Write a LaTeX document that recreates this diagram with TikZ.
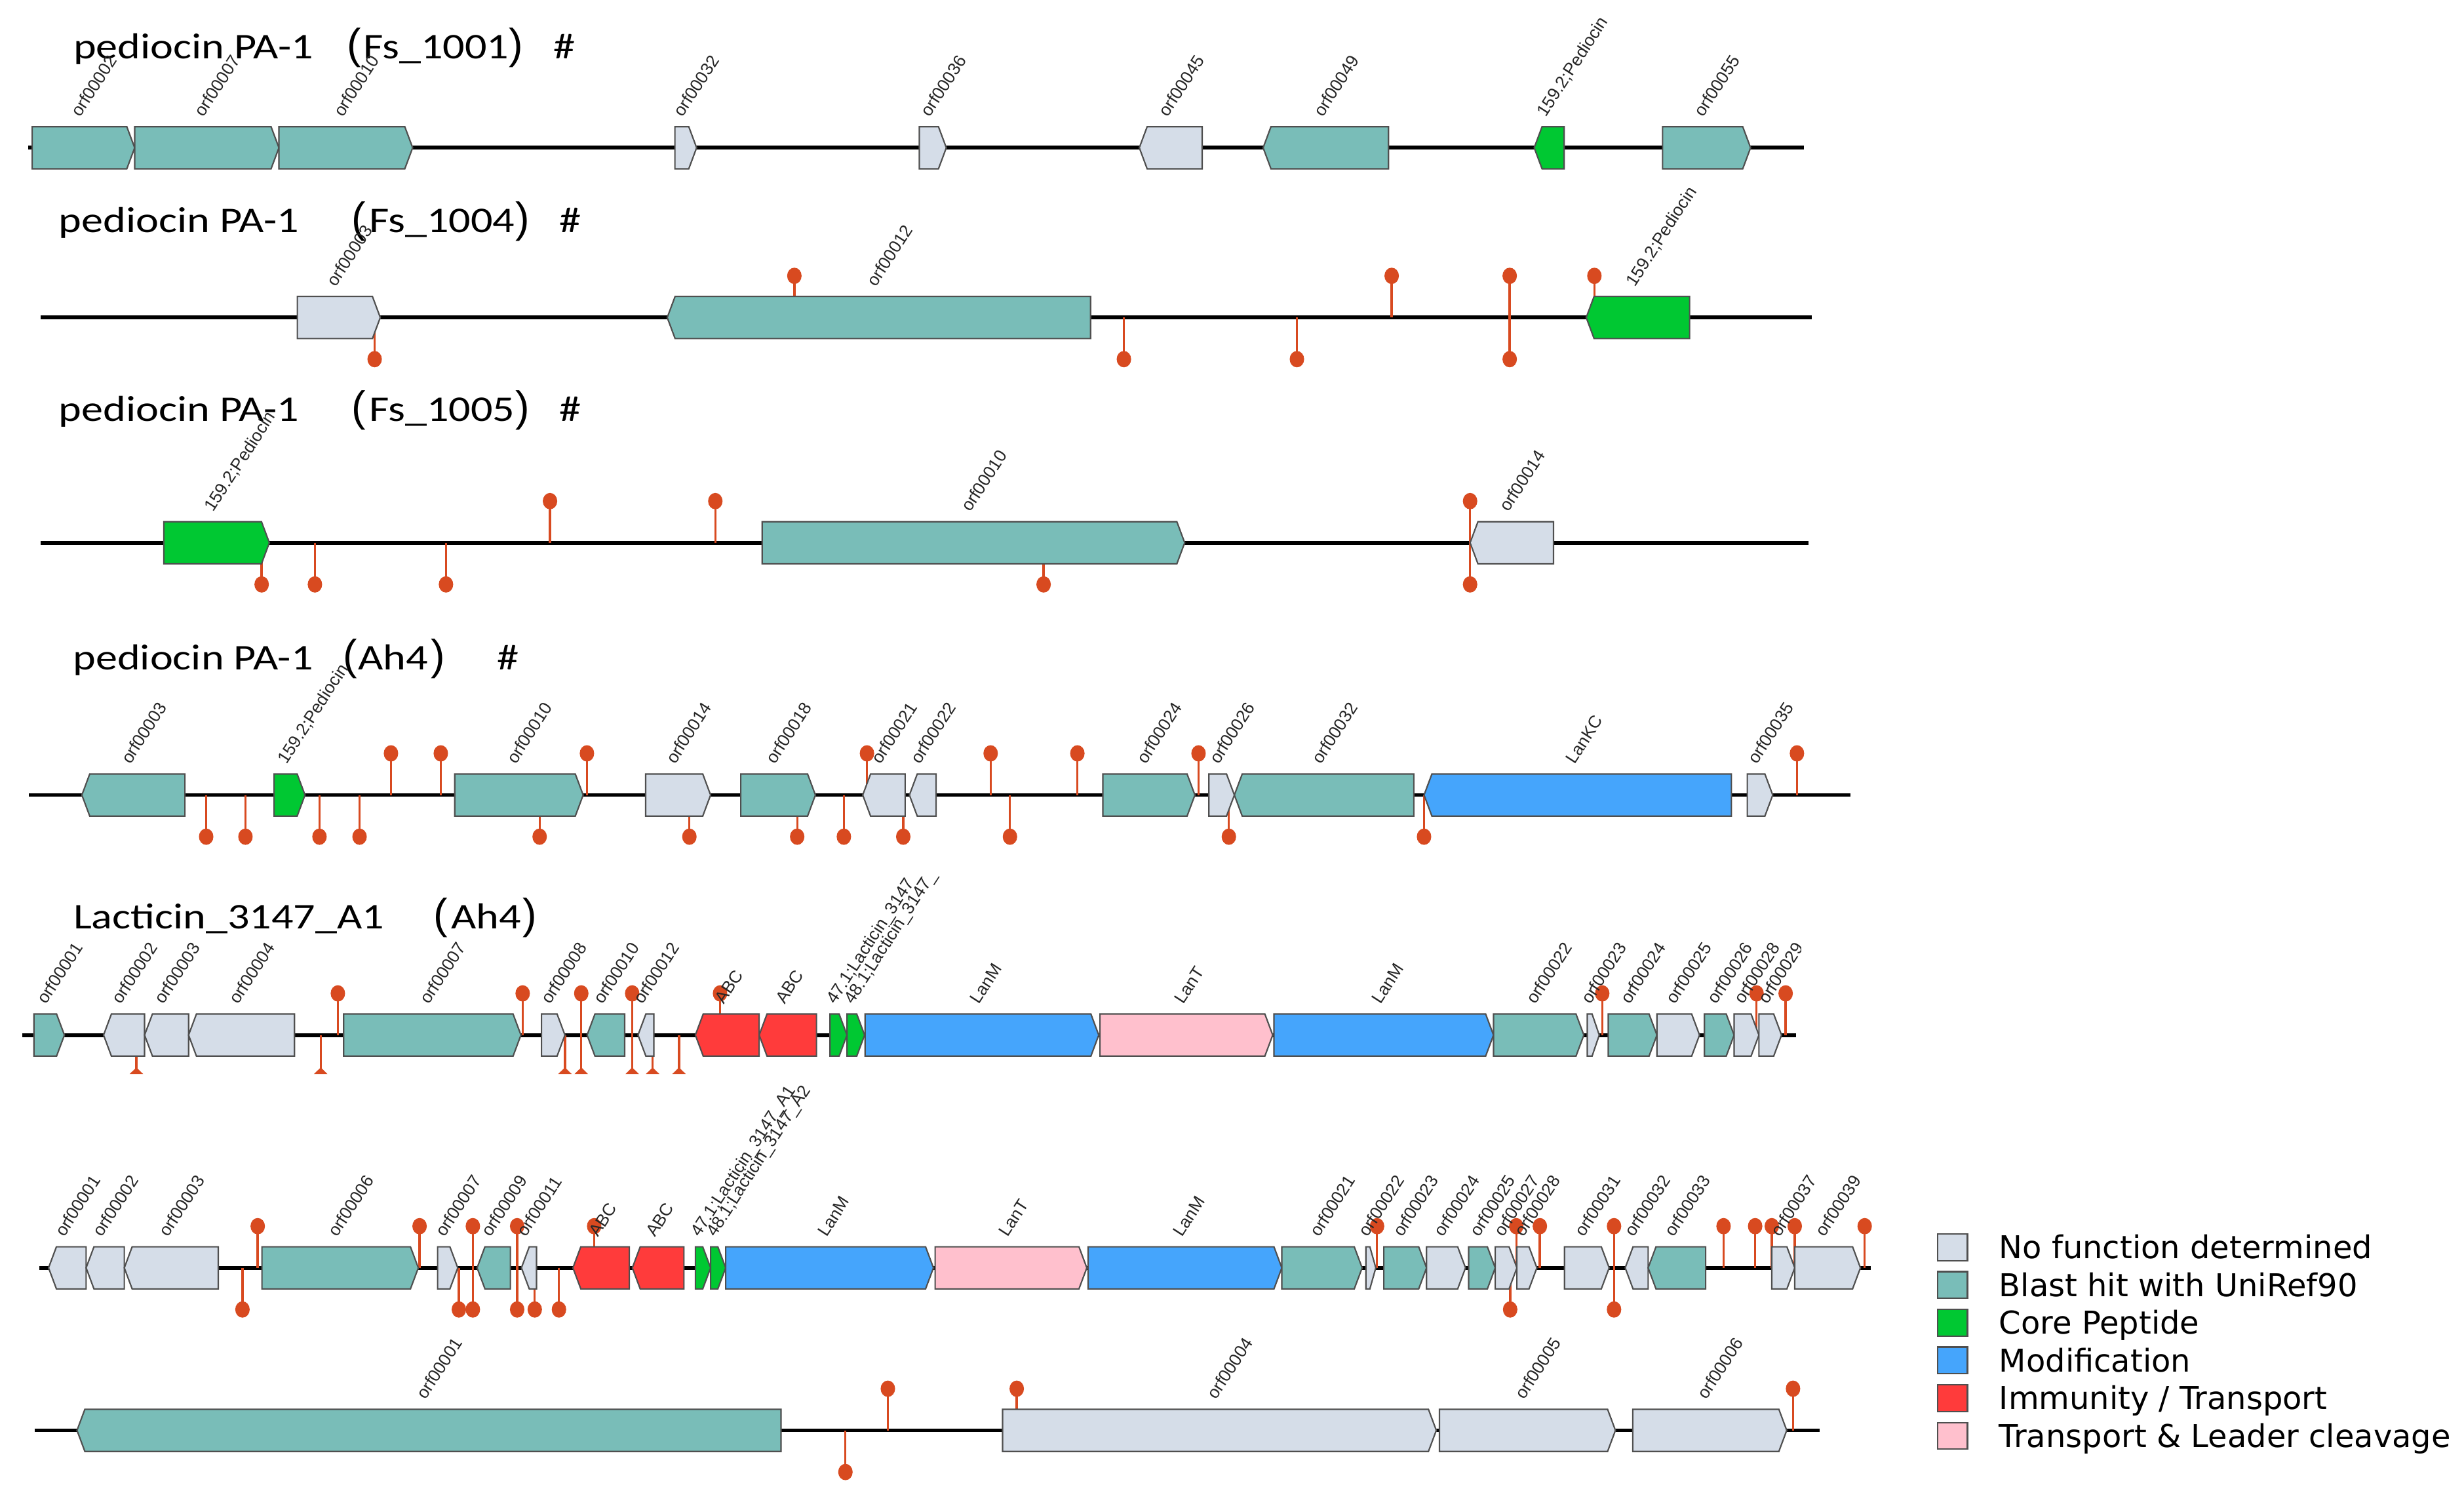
\documentclass[tikz,border=0pt]{standalone}
\usepackage{fontspec}
\newfontfamily\ttlfont[FakeStretch=1.2]{Carlito}
\newfontfamily\lblfont{Liberation Sans}
\newfontfamily\legfont{DejaVu Sans}
\definecolor{nofun}{HTML}{D5DDE8}
\definecolor{blast}{HTML}{79BDB8}
\definecolor{core}{HTML}{00C832}
\definecolor{modif}{HTML}{45A5FC}
\definecolor{immun}{HTML}{FF3B3B}
\definecolor{trans}{HTML}{FFC0CD}
\definecolor{lolc}{HTML}{D84A20}
\definecolor{gedge}{HTML}{4F4F4F}
\definecolor{labc}{HTML}{262626}

\newcommand{\genes}[3]{%
  \foreach \gA/\gB/\gC/\gL [count=\gi] in {#3}{%
    \pgfmathsetmacro{\gD}{(\gB-\gA)/abs(\gB-\gA)}%
    \pgfmathsetmacro{\gT}{min(5,0.6*abs(\gB-\gA))*\gD}%
    \pgfmathsetmacro{\gM}{(\gA+\gB)/2-2}%
    \filldraw[gene, fill=\gC] (\gA,{#2-13.4}) -- ({\gB-(\gT)},{#2-13.4}) -- (\gB,#2) -- ({\gB-(\gT)},{#2+13.4}) -- (\gA,{#2+13.4}) -- cycle;
    \node[glabel] (g#1-\gi) at (\gM,{#2-19}) {\gL};
  }%
}
\newcommand{\lolu}[2]{\foreach \px in {#2}{\draw[stem] (\px,#1) -- (\px,{#1-26.5}); \fill[lolc] (\px,{#1-26.5}) ellipse[x radius=4.6pt,y radius=5.2pt];}}
\newcommand{\lold}[2]{\foreach \px in {#2}{\draw[stem] (\px,#1) -- (\px,{#1+26.5}); \fill[lolc] (\px,{#1+26.5}) ellipse[x radius=4.6pt,y radius=5.2pt];}}
\newcommand{\lolt}[2]{\foreach \px in {#2}{\draw[stem] (\px,#1) -- (\px,{#1+21.5}); \fill[lolc] ({\px-4.3},{#1+24.8}) -- ({\px+4.3},{#1+24.8}) -- (\px,{#1+20.6}) -- cycle;}}

\begin{document}
\begin{tikzpicture}[x=1pt,y=-1pt,
  gene/.style={draw=gedge, line width=0.9pt, line join=miter},
  glabel/.style={font=\lblfont\fontsize{11}{13}\selectfont, text=labc, rotate=57, anchor=base west, inner sep=0pt},
  ttl/.style={font=\ttlfont\fontsize{23}{27}\selectfont, anchor=base west, inner sep=0pt},
  prn/.style={font=\lblfont\fontsize{27}{30}\selectfont, anchor=base, inner sep=0pt},
  dna/.style={line width=2.4pt, black},
  stem/.style={draw=lolc, line width=1.4pt},
  legsq/.style={draw=gedge, line width=0.9pt, minimum width=19pt, minimum height=17pt, inner sep=0pt},
  legtxt/.style={font=\legfont\fontsize{20}{22}\selectfont, anchor=base west, inner sep=0pt}]

\fill[white] (0,0) rectangle (1568,959);

% ---------- titles ----------
\node[ttl] (t1a) at (46.6,37.5) {pediocin PA-1};
\node[prn] (t1b) at (225.3,37.5) {(};
\node[ttl] (t1c) at (231,37.5) {Fs\_1001};
\node[prn] (t1d) at (328.5,37.5) {)};
\node[ttl] (t1e) at (352,37.5) {\#};

\node[ttl] (t2a) at (37.3,148) {pediocin PA-1};
\node[prn] (t2b) at (228.2,148) {(};
\node[ttl] (t2c) at (234.7,148) {Fs\_1004};
\node[prn] (t2d) at (332.5,148) {)};
\node[ttl] (t2e) at (356,148) {\#};

\node[ttl] (t3a) at (37.3,268) {pediocin PA-1};
\node[prn] (t3b) at (228.2,268) {(};
\node[ttl] (t3c) at (234.7,268) {Fs\_1005};
\node[prn] (t3d) at (332.5,268) {)};
\node[ttl] (t3e) at (356,268) {\#};

\node[ttl] (t4a) at (46.3,426) {pediocin PA-1};
\node[prn] (t4b) at (222.8,426) {(};
\node[ttl] (t4c) at (227.6,426) {Ah4};
\node[prn] (t4d) at (278.8,426) {)};
\node[ttl] (t4e) at (316,426) {\#};

\node[ttl] (t5a) at (46.6,591) {Lacticin\_3147\_A1};
\node[prn] (t5b) at (280.3,591) {(};
\node[ttl] (t5c) at (287,591) {Ah4};
\node[prn] (t5d) at (337.1,591) {)};

% ---------- row 1 ----------
\draw[dna] (18,94) -- (1148,94);
\genes{1}{94}{20.5/85.7/blast/orf00002, 85.7/177.5/blast/orf00007, 177.5/262.6/blast/orf00010,
  429.5/443.3/nofun/orf00032, 585/602.2/nofun/orf00036, 765/725/nofun/orf00045,
  883.6/803.8/blast/orf00049, 995.4/976.3/core/159.2;Pediocin, 1058/1114/blast/orf00055}

% ---------- row 2 ----------
\draw[dna] (26,202) -- (1153,202);
\lolu{202}{505.5,885.6,960.7,1014.6}
\lold{202}{238.4,715.2,825.3,960.7}
\genes{2}{202}{189.2/242/nofun/orf00003, 694/424.6/blast/orf00012, 1075.2/1009.4/core/159.2;Pediocin}

% ---------- row 3 ----------
\draw[dna] (26,345.3) -- (1151,345.3);
\lolu{345.3}{350,455.2,935.5}
\lold{345.3}{166.5,200.4,283.8,664.1,935.5}
\genes{3}{345.3}{104.3/171.4/core/159.2;Pediocin, 485/753.9/blast/orf00010, 988.6/935.5/nofun/orf00014}

% ---------- row 4 ----------
\draw[dna] (18.5,505.8) -- (1177.5,505.8);
\lolu{505.8}{248.8,280.5,373.5,551.7,630.4,685.6,762.7,1143.5}
\lold{505.8}{131.2,156.2,203.3,228.8,343.4,438.7,507.3,537,574.8,642.7,782,906.2}
\genes{4}{505.8}{117.7/52.1/blast/orf00003, 174.4/194.1/core/159.2;Pediocin, 289.4/371.1/blast/orf00010,
  410.9/452.2/nofun/orf00014, 471.4/518.9/blast/orf00018, 576/549/nofun/orf00021, 595.7/578.7/nofun/orf00022,
  701.8/760.4/blast/orf00024, 769.3/785.5/nofun/orf00026, 899.7/785.5/blast/orf00032,
  1101.8/906.2/modif/LanKC, 1111.9/1128.1/nofun/orf00035}

% ---------- row 5 ----------
\draw[dna] (14.2,658.5) -- (1143.1,658.5);
\lolu{658.5}{215,332.6,369.9,402.3,458.2,1019.6,1117.8,1136.3}
\lolt{658.5}{86.8,204.1,359.5,369.9,402.3,415.3,432.1}
\genes{5}{658.5}{21.6/41/blast/orf00001, 92/65.9/nofun/orf00002, 120/92/nofun/orf00003, 187.4/120/nofun/orf00004,
  218.7/331.5/blast/orf00007, 344.6/359.5/nofun/orf00008, 397.5/373.6/blast/orf00010, 416.1/406/nofun/orf00012,
  483.1/442.5/immun/ABC, 519.6/483.1/immun/ABC, 528.2/539/core/47.1;Lacticin\_3147\_, 539/550.2/core/48.1;Lacticin\_3147\_,
  550.5/699.2/modif/LanM, 700/809.9/trans/LanT, 810.7/950.4/modif/LanM, 950.4/1007.9/blast/orf00022,
  1010.1/1017.7/nofun/orf00023, 1023.4/1054.4/blast/orf00024, 1054.4/1081.5/nofun/orf00025,
  1084.6/1103.5/blast/orf00026, 1103.5/1119.3/nofun/orf00028, 1119.3/1133.7/nofun/{}}
\begin{scope}
  \clip (1000,540) rectangle (1146,650);
  \node[glabel] (g5-last) at (1124.5,639.5) {orf00029};
\end{scope}

% ---------- row 6 ----------
\draw[dna] (25.1,806.6) -- (1190.5,806.6);
\lolu{806.6}{164,267,300.9,329.1,378.1,876.3,964.9,979.9,1027.1,1096.8,1116.9,1127.5,1142.1,1186.6}
\lold{806.6}{154.3,292,300.9,329.1,340.3,355.7,961,1027.1}
\genes{6}{806.6}{54.8/30.9/nofun/orf00001, 79.1/54.8/nofun/orf00002, 138.9/79.1/nofun/orf00003,
  166.7/266.2/blast/orf00006, 278.5/291.3/nofun/orf00007, 324.8/303.6/blast/orf00009, 341.4/331.8/nofun/orf00011,
  400.5/364.6/immun/ABC, 435.2/402.4/immun/ABC, 442.5/452.2/core/47.1;Lacticin\_3147\_A1, 452.2/461.8/core/48.1;Lacticin\_3147\_A2,
  461.8/594/modif/LanM, 595.1/691.6/trans/LanT, 692.4/815.7/modif/LanM, 815.7/866.8/blast/orf00021,
  869.2/875.5/nofun/orf00022, 880.6/907.8/blast/orf00023, 907.8/932.6/nofun/orf00024, 934.6/951.5/blast/orf00025,
  951.5/965.3/nofun/orf00027, 965.3/978/nofun/orf00028, 995.6/1024/nofun/orf00031, 1048.8/1034.2/nofun/orf00032,
  1085.4/1048.8/blast/orf00033, 1127.5/1142.1/nofun/orf00037, 1142.1/1183.9/nofun/orf00039}

% ---------- row 7 ----------
\draw[dna] (22,910) -- (1158,910);
\lolu{910}{565,647,1141}
\lold{910}{538}
\genes{7}{910}{497/49/blast/orf00001, 638/914/nofun/orf00004, 916/1028/nofun/orf00005, 1039/1137/nofun/orf00006}

% ---------- legend ----------
\node[legsq, fill=nofun] (k1) at (1242.5,793.5) {};
\node[legtxt] (k1t) at (1272,800.7) {No function determined};
\node[legsq, fill=blast] (k2) at (1242.5,817.5) {};
\node[legtxt] (k2t) at (1272,824.7) {Blast hit with UniRef90};
\node[legsq, fill=core] (k3) at (1242.5,841.5) {};
\node[legtxt] (k3t) at (1272,848.7) {Core Peptide};
\node[legsq, fill=modif] (k4) at (1242.5,865.5) {};
\node[legtxt] (k4t) at (1272,872.7) {Modification};
\node[legsq, fill=immun] (k5) at (1242.5,889.5) {};
\node[legtxt] (k5t) at (1272,896.7) {Immunity / Transport};
\node[legsq, fill=trans] (k6) at (1242.5,913.5) {};
\node[legtxt] (k6t) at (1272,920.7) {Transport \& Leader cleavage};
\end{tikzpicture}
\end{document}
